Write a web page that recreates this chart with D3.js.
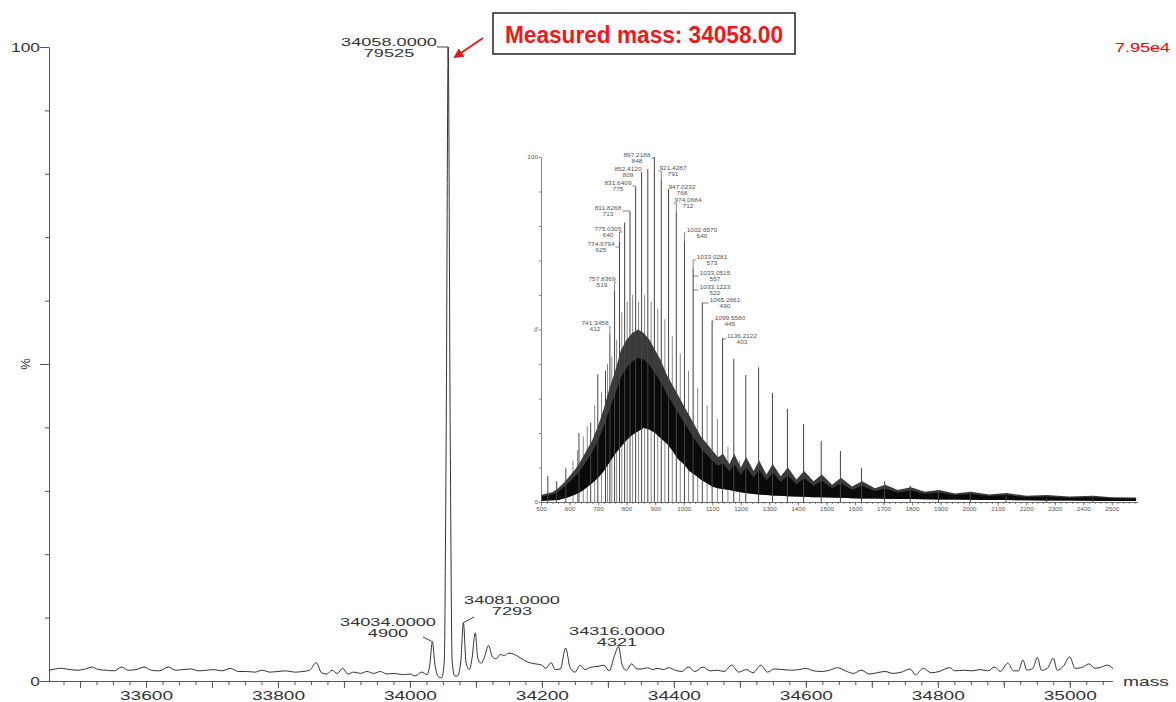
<!DOCTYPE html>
<html>
<head>
<meta charset="utf-8">
<script src="https://cdn.jsdelivr.net/npm/d3@7"></script>
<style>
  body { margin: 0; background: #fff; }
  text { font-family: "Liberation Sans", Arial, sans-serif; }
</style>
</head>
<body>
<div id="vis-holder"></div>
<script>
// Deconvoluted spectrum, [mass, % intensity]
const mainSpectrum = [
  [33453,1.7],[33462,1.9],[33472,2.0],[33485,1.8],[33497,1.7],[33508,1.9],[33518,2.2],[33528,1.8],
  [33540,1.7],[33552,1.6],[33563,2.2],[33573,1.7],[33585,1.8],[33597,2.2],[33608,1.7],[33620,1.6],
  [33634,2.2],[33645,1.7],[33656,1.8],[33668,1.9],[33680,1.6],[33692,1.7],[33703,1.8],[33715,1.6],
  [33728,2.0],[33740,1.5],[33752,1.5],[33765,1.4],[33776,1.7],[33788,1.4],[33800,1.5],[33812,1.6],
  [33825,1.4],[33838,1.5],[33848,1.7],[33858,2.9],[33866,1.3],[33874,1.1],[33882,1.7],[33890,1.2],
  [33898,2.0],[33906,1.1],[33915,1.4],[33925,1.2],[33935,1.5],[33945,1.2],[33955,1.5],[33965,1.1],
  [33975,1.2],[33990,1.0],[34000,1.1],[34008,0.8],[34018,1.4],[34026,1.0],
  [34030,2.5],[34034,6.2],[34038,2.5],[34044,0.6],[34048,0.5],
  [34052,3],[34055,40],[34058,100],[34061,40],[34064,3],[34068,0.8],
  [34072,0.8],[34077,3],[34081,9.2],[34085,3],[34090,1.8],[34094,3.5],[34099,7.6],[34103,3.5],
  [34108,2.8],[34113,3.8],[34119,5.6],[34125,3.8],[34131,3.5],[34137,4.2],[34143,4.0],[34150,4.4],
  [34158,4.2],[34168,3.6],[34178,3.0],[34190,2.7],[34200,2.5],[34206,2.0],[34214,2.9],[34220,1.8],
  [34228,1.9],[34236,5.2],[34243,2.0],[34250,1.4],[34258,2.5],[34265,1.8],[34275,2.2],[34285,2.3],
  [34294,2.5],[34302,1.6],[34310,4.0],[34316,5.4],[34322,2.4],[34328,1.7],[34336,2.7],[34344,1.9],
  [34352,1.9],[34360,2.1],[34368,1.8],[34376,2.0],[34384,1.8],[34392,2.1],[34402,1.7],[34412,1.5],
  [34422,2.2],[34432,1.5],[34444,2.2],[34455,1.6],[34466,1.7],[34476,1.5],[34488,2.5],[34498,1.4],
  [34510,1.8],[34520,1.3],[34532,2.5],[34542,1.4],[34552,1.9],[34565,1.8],[34578,1.7],[34590,1.8],
  [34600,2.0],[34612,1.6],[34624,1.5],[34636,1.7],[34648,2.1],[34660,1.6],[34672,1.2],[34684,1.7],
  [34696,1.1],[34708,1.3],[34720,1.5],[34732,1.2],[34745,1.4],[34758,1.9],[34766,1.0],[34778,2.0],
  [34790,1.3],[34802,1.5],[34818,2.1],[34826,1.6],[34840,1.7],[34852,1.6],[34864,1.8],[34876,1.6],
  [34886,2.2],[34895,1.5],[34906,2.8],[34915,1.6],[34922,1.6],[34929,3.3],[34935,1.7],[34944,2.0],
  [34951,3.7],[34957,1.7],[34966,2.0],[34975,3.6],[34981,1.7],[34990,2.3],[35000,3.8],[35008,2.0],
  [35018,2.1],[35029,2.7],[35038,2.0],[35048,2.2],[35057,2.5],[35066,1.9]
];
const mainTicks = [33600, 33800, 34000, 34200, 34400, 34600, 34800, 35000];
const mainLabelMass = ["34058.0000", "34034.0000", "34081.0000", "34316.0000"];
const mainLabelInt = ["79525", "4900", "7293", "4321"];
const mainLabelPeak = [34058, 34034, 34081, 34316];
const mainLabelPct = [100, 6.2, 9.2, 5.4];

// Raw m/z spectrum (inset): charge state spikes
const insetMz = [524, 555, 587, 633, 674, 699, 726, 741.35, 757.84, 775.03, 793.1, 811.83, 831.64,
  852.41, 874.3, 897.22, 921.43, 947.02, 974.07, 1002.66, 1033.03, 1065.27, 1099.56, 1136.21,
  1175.4, 1217.4, 1262.4, 1310.9, 1363.3, 1420.1, 1481.8, 1549.1, 1622.8, 1703.9, 1793.6,
  1893.1, 2004.4, 2129.6, 2271.5, 2433.7];
const insetPct = [7.5, 6, 9.8, 20, 23, 37, 38, 48.6, 61.2, 75.5, 81, 84.1, 91.4,
  95.4, 96.5, 100, 93.3, 90.6, 84, 75.5, 67.6, 57.8, 52.5, 47.5,
  41.5, 36.8, 39, 31.6, 27, 22.6, 17.7, 14.8, 9.9, 6, 4.7,
  3, 2.3, 1.8, 1.2, 1.5];
// smaller gray spikes between the charge states
const satMz = [612, 628, 648, 662, 688, 712, 733, 748, 765, 783, 802, 821, 842, 863, 886, 909, 934,
  960, 988, 1017, 1049, 1082, 1118, 1155, 1196];
const satPct = [12, 15, 19, 22, 28, 32, 40, 42, 47, 55, 58, 60, 58, 60, 58, 56, 53,
  48, 43, 38, 33, 28, 24, 16, 12];
// dense unresolved band (bottom and top of the black hash)
const bandMz = [500, 520, 540, 560, 580, 600, 620, 640, 660, 680, 700, 720, 740, 760, 780, 800, 820, 840,
  860, 880, 900, 920, 940, 960, 980, 1000, 1020, 1040, 1060, 1080, 1100, 1120, 1138, 1160, 1177,
  1200, 1219, 1245, 1264, 1290, 1312, 1340, 1365, 1395, 1422, 1455, 1484, 1520, 1551, 1590, 1625,
  1670, 1706, 1750, 1796, 1845, 1895, 1950, 2006, 2070, 2131, 2200, 2273, 2350, 2436, 2500, 2585];
const bandHigh = [2.0, 2.5, 2.8, 4.0, 5.5, 7.5, 9.5, 12, 15, 18, 22, 27, 33, 38, 44, 47, 49, 50,
  49, 47, 44, 41, 37, 34, 31, 28, 25, 22, 19, 17, 15, 13, 14, 11, 14,
  10, 13, 9, 12, 8, 11, 7.5, 10, 6.5, 9, 6, 8, 5, 7, 4.5, 6,
  4, 5, 3.5, 4.3, 3, 3.5, 2.5, 3, 2.2, 2.6, 1.8, 2.0, 1.6, 1.8, 1.4, 1.3];
const bandLow = [0.3, 0.4, 0.5, 0.6, 1.0, 1.5, 2.2, 3, 4.2, 5.5, 7, 9, 11.5, 14, 16, 18, 19.5, 20.5,
  21.5, 21, 20, 18.5, 17, 15, 12.5, 11, 9, 7.8, 6.5, 5.5, 4.5, 4.0, 3.8, 3.5, 3.2,
  2.8, 2.6, 2.3, 2.2, 2.0, 1.9, 1.8, 1.7, 1.6, 1.5, 1.4, 1.35, 1.3, 1.2, 1.1, 1.05,
  1.0, 0.95, 0.9, 0.85, 0.8, 0.75, 0.7, 0.65, 0.6, 0.55, 0.5, 0.45, 0.4, 0.35, 0.3, 0.3];
const insetTicks = [500, 600, 700, 800, 900, 1000, 1100, 1200, 1300, 1400, 1500, 1600, 1700, 1800,
  1900, 2000, 2100, 2200, 2300, 2400, 2500];
const insetLabelMz = ["897.2188", "852.4120", "921.4287", "831.6409", "947.0232", "974.0684",
  "811.8268", "775.0305", "774.9794", "757.8369", "741.3458", "1002.6570", "1033.0281",
  "1033.0515", "1033.1223", "1065.2661", "1099.5580", "1136.2122"];
const insetLabelInt = [848, 809, 791, 775, 768, 712, 713, 640, 625, 519, 412, 640, 573, 557, 522, 490, 445, 403];
// label text centres (layout only)
const insetLabelPos = [[637,155],[628,169],[673,168],[618,183],[682,187],[688,200],[608,208],
  [608,229],[601,244],[602,279],[595,323],[702,230],[712,257],[715,273],[715,287],[725,300],
  [730,318],[742,336]];

const svg = d3.select("#vis-holder")
  .append("svg")
  .attr("width", 1176)
  .attr("height", 702);

// stretched text helper (the original picture is wider than tall)
function addText(g, str, cx, by, size, sx, fill, anchor) {
  return g.append("text")
    .attr("transform", `translate(${cx},${by}) scale(${sx},1)`)
    .attr("text-anchor", anchor || "middle")
    .attr("font-size", size)
    .attr("fill", fill || "#333")
    .text(str);
}

/*
Main chart
*/
const x = d3.scaleLinear().domain([33453, 35064]).range([49, 1112]);
const y = d3.scaleLinear().domain([0, 100]).range([681, 47]);

const xg = svg.append("g").attr("transform", `translate(0,${y(0)})`);
xg.append("g").call(d3.axisBottom(x).tickValues(d3.range(33475, 35064, 25)).tickSize(4).tickFormat("").tickSizeOuter(0));
xg.append("g").call(d3.axisBottom(x).tickValues(d3.range(33500, 35064, 100)).tickSize(7).tickFormat("").tickSizeOuter(0));
xg.append("g").call(d3.axisBottom(x).tickValues(mainTicks).tickSize(0).tickPadding(10).tickFormat(d3.format("d")).tickSizeOuter(0))
  .call(g => g.selectAll("text")
    .attr("font-size", 13)
    .attr("fill", "#333")
    .attr("font-family", '"Liberation Sans", Arial, sans-serif')
    .attr("transform", "scale(1.47,1)"));
xg.selectAll("path, line").attr("stroke", "#555");

const yg = svg.append("g").attr("transform", `translate(${x.range()[0]},0)`);
yg.call(d3.axisLeft(y).tickValues(d3.range(0, 101, 10)).tickSize(4).tickFormat("").tickSizeOuter(0));
yg.selectAll(".tick line").attr("x2", d => (d % 50 === 0 ? -9 : -4));
yg.selectAll("path, line").attr("stroke", "#555");

addText(svg, "100", 40, y(100) + 4.5, 12, 1.45, "#333", "end");
addText(svg, "0", 40, y(0) + 4.5, 12, 1.45, "#333", "end");
svg.append("text")
  .attr("transform", `translate(30,${y(50)}) rotate(-90)`)
  .attr("text-anchor", "middle")
  .attr("font-size", 13)
  .attr("fill", "#333")
  .text("%");
addText(svg, "mass", 1146, y(0) + 5, 13, 1.48);
addText(svg, "7.95e4", 1170, 52, 12.5, 1.44, "#f00", "end");

// spectrum line
const mainLine = d3.line()
  .x(d => x(d[0]))
  .y(d => y(d[1]))
  .curve(d3.curveMonotoneX);
svg.append("path")
  .datum(mainSpectrum)
  .attr("d", mainLine)
  .attr("fill", "none")
  .attr("stroke", "#333")
  .attr("stroke-width", 1);

// peak labels
const mainLabelPos = [[389, 42], [388, 622], [512, 600], [617, 631]];
const mainLeadFrom = [[437, 47], [423, 637], [474, 617], [617, 645]];
mainLabelMass.forEach((m, i) => {
  const [cx, cy] = mainLabelPos[i];
  addText(svg, m, cx, cy + 4, 10.5, 1.73);
  addText(svg, mainLabelInt[i], cx, cy + 15, 10.5, 1.73);
  const px = x(mainLabelPeak[i]), py = y(mainLabelPct[i]);
  const [lx, ly] = mainLeadFrom[i];
  svg.append("path")
    .attr("d", i === 0 ? `M${lx},${ly}H${px}V${py + 12}` : `M${lx},${ly}L${px},${py}`)
    .attr("fill", "none")
    .attr("stroke", "#444")
    .attr("stroke-width", 1);
});

// callout box and arrow
svg.append("defs").append("marker")
  .attr("id", "arrow")
  .attr("viewBox", "0 0 10 10")
  .attr("refX", 8).attr("refY", 5)
  .attr("markerWidth", 5).attr("markerHeight", 5)
  .attr("orient", "auto")
  .append("path").attr("d", "M0,0L10,5L0,10z").attr("fill", "#e31b1b");
svg.append("line")
  .attr("x1", 483).attr("y1", 38).attr("x2", 455).attr("y2", 57)
  .attr("stroke", "#e31b1b").attr("stroke-width", 2)
  .attr("marker-end", "url(#arrow)");
svg.append("rect")
  .attr("x", 493).attr("y", 13).attr("width", 302).attr("height", 41)
  .attr("fill", "#fff").attr("stroke", "#222").attr("stroke-width", 1.5);
svg.append("text")
  .attr("x", 505).attr("y", 43)
  .attr("font-family", "Lato, 'Open Sans', sans-serif")
  .attr("font-weight", "bold")
  .attr("font-size", 24)
  .attr("fill", "#f01818")
  .attr("textLength", 278)
  .attr("lengthAdjust", "spacingAndGlyphs")
  .text("Measured mass: 34058.00");

/*
Inset (raw m/z spectrum)
*/
const ix = d3.scaleLinear().domain([500, 2590]).range([541, 1137.5]);
const iy = d3.scaleLinear().domain([0, 100]).range([502, 157]);
const inset = svg.append("g");

// gray satellites
inset.selectAll(".sat")
  .data(satMz)
  .enter().append("line")
  .attr("x1", d => ix(d)).attr("x2", d => ix(d))
  .attr("y1", iy(0)).attr("y2", (d, i) => iy(satPct[i]))
  .attr("stroke", "#888").attr("stroke-width", 1);

// dense band: lighter hash on top, solid black below
const bandTop = d3.area()
  .x(d => ix(d))
  .y0((d, i) => iy(bandLow[i]))
  .y1((d, i) => iy(bandHigh[i]));
const bandCore = d3.area()
  .x(d => ix(d))
  .y0((d, i) => iy(bandLow[i]))
  .y1((d, i) => iy(bandLow[i] + 0.72 * (bandHigh[i] - bandLow[i])));
inset.append("path")
  .datum(bandMz)
  .attr("d", bandTop)
  .attr("fill", "#3a3a3a");
inset.append("path")
  .datum(bandMz)
  .attr("d", bandCore)
  .attr("fill", "#0a0a0a");

// charge-state spikes
inset.selectAll(".spk")
  .data(insetMz)
  .enter().append("line")
  .attr("x1", d => ix(d)).attr("x2", d => ix(d))
  .attr("y1", iy(0)).attr("y2", (d, i) => iy(insetPct[i]))
  .attr("stroke", "#444").attr("stroke-width", 1);

// inset axes
const ixg = inset.append("g").attr("transform", `translate(0,${iy(0)})`);
ixg.append("g").call(d3.axisBottom(ix).tickValues(d3.range(520, 2590, 20)).tickSize(2).tickFormat("").tickSizeOuter(0));
ixg.append("g").call(d3.axisBottom(ix).tickValues(insetTicks).tickSize(3.5).tickPadding(1.5).tickFormat(d3.format("d")).tickSizeOuter(0))
  .call(g => g.selectAll("text")
    .attr("font-size", 5.8)
    .attr("fill", "#555")
    .attr("font-family", '"Liberation Sans", Arial, sans-serif')
    .attr("transform", "scale(1.09,1)"));
ixg.selectAll("path, line").attr("stroke", "#666").attr("stroke-width", 0.8);

const iyg = inset.append("g").attr("transform", `translate(${ix(500)},0)`);
iyg.call(d3.axisLeft(iy).tickValues(d3.range(0, 101, 10)).tickSize(2).tickFormat("").tickSizeOuter(0));
iyg.selectAll("path, line").attr("stroke", "#666").attr("stroke-width", 0.8);
addText(inset, "100", 538, iy(100) + 2, 5.8, 1.1, "#555", "end");
addText(inset, "0", 538, iy(0) + 2, 5.8, 1.1, "#555", "end");
inset.append("text")
  .attr("transform", `translate(538,${iy(50)}) rotate(-90)`)
  .attr("text-anchor", "middle")
  .attr("font-size", 5.8)
  .attr("fill", "#555")
  .text("%");

// peak labels with leaders
insetLabelMz.forEach((m, i) => {
  const [cx, cy] = insetLabelPos[i];
  const t = addText(inset, m, cx, cy + 2, 5.5, 1.18, "#555");
  addText(inset, String(insetLabelInt[i]), cx, cy + 8, 5.5, 1.18, "#555");
  const half = t.node().getComputedTextLength() * 1.18 / 2;
  const px = ix(parseFloat(m));
  const top = iy(insetLabelInt[i] / 848 * 100);
  const ax = cx < px ? cx + half + 1 : cx - half - 1;
  const ay = cy + 3;
  inset.append("path")
    .attr("d", `M${ax},${ay}H${px}V${top}`)
    .attr("fill", "none")
    .attr("stroke", "#666")
    .attr("stroke-width", 0.8);
});
</script>
</body>
</html>
